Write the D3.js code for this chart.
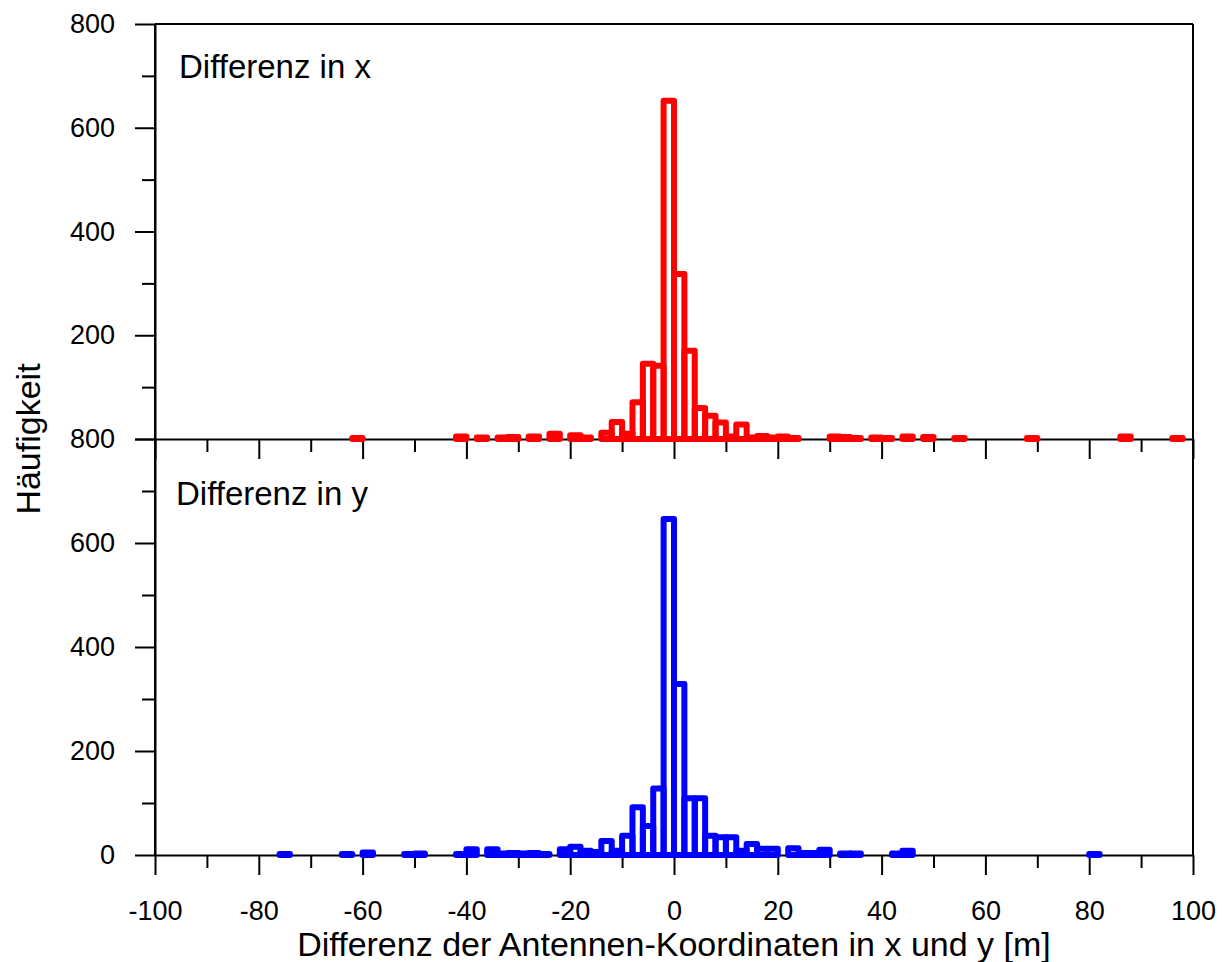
<!DOCTYPE html>
<html>
<head>
<meta charset="utf-8">
<script src="https://cdn.jsdelivr.net/npm/d3@7"></script>
<style>
  html, body { margin: 0; padding: 0; background: #fff; }
  svg { display: block; }
  text { font-family: "Liberation Sans", Arial, sans-serif; fill: #000; }
  .axis path, .axis line { stroke: #000; stroke-width: 2; }
  .axis text { font-size: 27px; }
  .bar { fill: none; stroke-width: 6; stroke-linejoin: round; stroke-linecap: round; }
</style>
</head>
<body>
<svg id="chart" width="1222" height="962"></svg>
<script>
// ── Data: histogram bins (left edge, width 2 m) and counts ─────────
const binWidth = 2;

// Differenz in x (upper panel, red)
const diffXBins   = [-62, -42, -38, -34, -32, -28, -24, -20, -18, -14, -12, -10, -8, -6, -4, -2, 0, 2, 4, 6, 8, 10, 12, 14, 16, 18, 20, 22, 30, 32, 34, 38, 40, 44, 48, 54, 68, 86, 96];
const diffXCounts = [2, 5, 3, 3, 4, 5, 10, 7, 3, 12, 33, 10, 71, 145, 141, 652, 318, 170, 60, 45, 32, 5, 28, 3, 6, 3, 5, 2, 5, 4, 2, 3, 2, 5, 4, 2, 2, 5, 2];

// Differenz in y (lower panel, blue)
const diffYBins   = [-76, -64, -60, -52, -50, -42, -40, -36, -34, -32, -30, -28, -26, -22, -20, -18, -16, -14, -12, -10, -8, -6, -4, -2, 0, 2, 4, 6, 8, 10, 12, 14, 16, 18, 22, 24, 26, 28, 32, 34, 42, 44, 80];
const diffYCounts = [2, 2, 5, 2, 3, 2, 11, 11, 3, 4, 3, 4, 2, 11, 16, 8, 6, 27, 8, 37, 92, 56, 128, 646, 329, 109, 109, 37, 34, 34, 8, 21, 12, 12, 13, 4, 4, 10, 3, 3, 3, 8, 2];

const xMajor = [-100, -80, -60, -40, -20, 0, 20, 40, 60, 80, 100];
const xMinor = [-90, -70, -50, -30, -10, 10, 30, 50, 70, 90];
const yMajor = [0, 200, 400, 600, 800];
const yMinor = [100, 300, 500, 700];

// ── Layout ─────────────────────────────────────────────
const svg = d3.select('#chart');
const L = 155, R = 1193, T = 24, M = 439, B = 855;

const x    = d3.scaleLinear().domain([-100, 100]).range([L, R]);
const yTop = d3.scaleLinear().domain([0, 800]).range([M, T]);
const yBot = d3.scaleLinear().domain([0, 800]).range([B, M]);

// ── Axes ───────────────────────────────────────────────
function yAxes(scale, labels) {
  svg.append('g').attr('class', 'axis').attr('transform', `translate(${L},0)`)
    .call(d3.axisLeft(scale).tickValues(yMinor).tickSize(13).tickSizeOuter(0).tickFormat(''));
  const g = svg.append('g').attr('class', 'axis').attr('transform', `translate(${L},0)`)
    .call(d3.axisLeft(scale).tickValues(yMajor).tickSize(20).tickSizeOuter(0).tickPadding(20)
      .tickFormat(d => labels.includes(d) ? String(d) : ''));
  g.select('.domain').remove();
}
yAxes(yTop, [200, 400, 600, 800]);
yAxes(yBot, [0, 200, 400, 600, 800]);
svg.append('line').attr('x1', L).attr('x2', L).attr('y1', T).attr('y2', B)
  .attr('stroke', '#000').attr('stroke-width', 2);

function xAxes(yPos, withLabels) {
  svg.append('g').attr('class', 'axis').attr('transform', `translate(0,${yPos})`)
    .call(d3.axisBottom(x).tickValues(xMinor).tickSize(13).tickSizeOuter(0).tickFormat(''))
    .select('.domain').remove();
  svg.append('g').attr('class', 'axis').attr('transform', `translate(0,${yPos})`)
    .call(d3.axisBottom(x).tickValues(xMajor).tickSize(20).tickSizeOuter(0).tickPadding(26)
      .tickFormat(d => withLabels ? String(d) : ''));
}
xAxes(M, false);
xAxes(B, true);

// frame: top and right
svg.append('line').attr('x1', L).attr('x2', R).attr('y1', T).attr('y2', T)
  .attr('stroke', '#000').attr('stroke-width', 2);
svg.append('line').attr('x1', R).attr('x2', R).attr('y1', T).attr('y2', B)
  .attr('stroke', '#000').attr('stroke-width', 2);

// ── Histogram outlines ─────────────────────────────────
function histogram(bins, counts, yScale, color) {
  const data = bins.map((b, i) => ({ x0: b, x1: b + binWidth, n: counts[i] }));
  svg.append('g').selectAll('path')
    .data(data).join('path')
    .attr('class', 'bar')
    .attr('stroke', color)
    .attr('d', d => `M${x(d.x0)},${yScale(0)}V${yScale(d.n)}H${x(d.x1)}V${yScale(0)}Z`);
}
histogram(diffXBins, diffXCounts, yTop, '#ff0000');
histogram(diffYBins, diffYCounts, yBot, '#0000ff');

// ── Labels ─────────────────────────────────────────────
svg.append('text').attr('x', 179).attr('y', 78).attr('font-size', 33).text('Differenz in x');
svg.append('text').attr('x', 176).attr('y', 505).attr('font-size', 33).text('Differenz in y');

svg.append('text').attr('x', (L + R) / 2).attr('y', 956)
  .attr('text-anchor', 'middle').attr('font-size', 34)
  .text('Differenz der Antennen-Koordinaten in x und y [m]');

svg.append('text').attr('transform', `translate(40,${M}) rotate(-90)`)
  .attr('text-anchor', 'middle').attr('font-size', 34)
  .text('Häufigkeit');
</script>
</body>
</html>
